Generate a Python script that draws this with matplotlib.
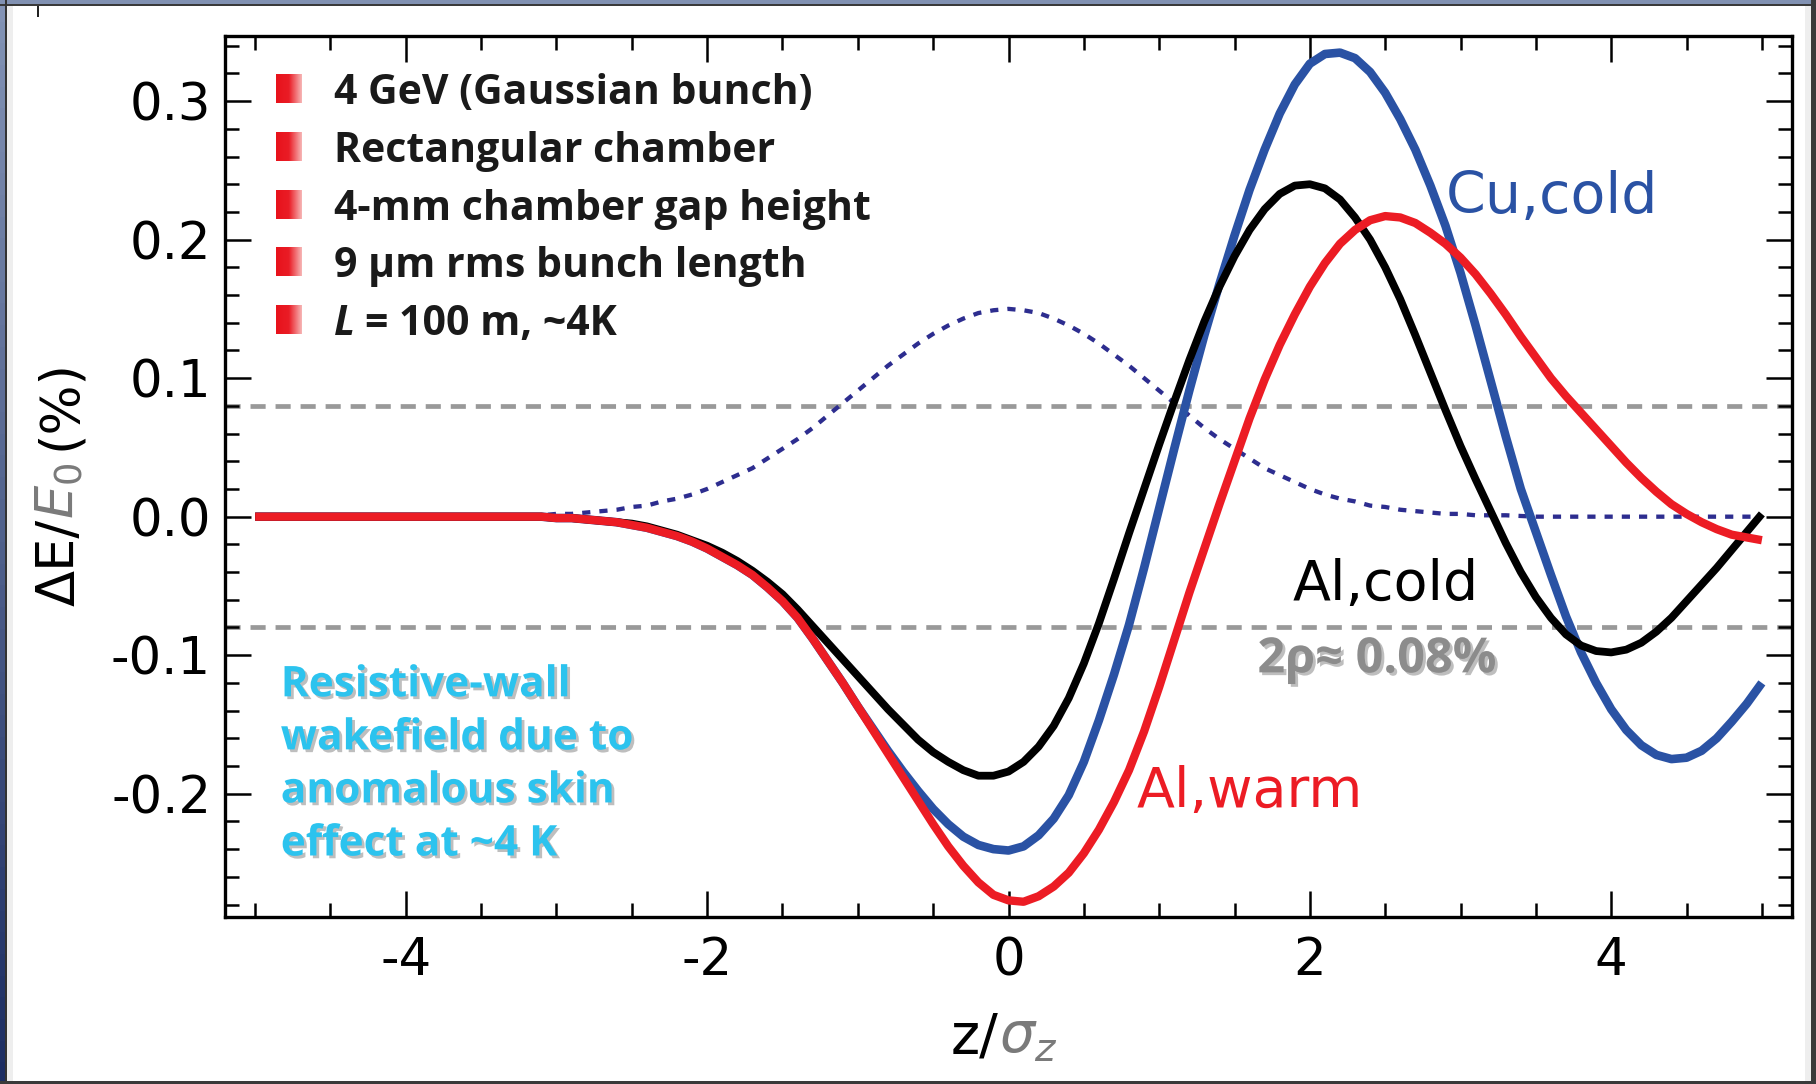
import numpy as np
import matplotlib
matplotlib.use('Agg')
import matplotlib.pyplot as plt
import matplotlib.patheffects as pe
from matplotlib.patches import Rectangle
from matplotlib.colors import LinearSegmentedColormap

plt.rcParams['axes.unicode_minus'] = False
plt.rcParams['font.family'] = ['DejaVu Sans']

# z / sigma_z sampling grid, step 0.1
z = np.linspace(-5, 5, 101)

# dotted bunch profile
bunch = ([0.0] * 16 +
         [0.0005, 0.001, 0.001, 0.001, 0.002,
          0.002, 0.003, 0.004, 0.005, 0.007, 0.008, 0.011, 0.013, 0.016, 0.020,
          0.025, 0.030, 0.035, 0.042, 0.049, 0.056, 0.064, 0.073, 0.082, 0.091,
          0.100, 0.109, 0.117, 0.125, 0.132, 0.138, 0.143, 0.147, 0.149,
          0.150,
          0.149, 0.147, 0.143, 0.138, 0.132, 0.125, 0.117, 0.109, 0.100,
          0.091, 0.082, 0.073, 0.064, 0.056, 0.049, 0.042, 0.035, 0.030, 0.025,
          0.020, 0.016, 0.013, 0.011, 0.008, 0.007, 0.005, 0.004, 0.003, 0.002,
          0.002, 0.001, 0.001, 0.001, 0.0005] +
         [0.0] * 16)

al_cold = ([0.0] * 20 +
           [-0.001, -0.001, -0.002, -0.003, -0.004, -0.005, -0.007, -0.010, -0.013, -0.017,
            -0.021, -0.026, -0.032, -0.039, -0.047, -0.056, -0.067, -0.079, -0.091, -0.103,
            -0.115, -0.127, -0.139, -0.150, -0.161, -0.170, -0.177, -0.183, -0.187, -0.187,
            -0.184, -0.177, -0.166, -0.151, -0.131, -0.106, -0.077, -0.045, -0.012, 0.020,
            0.052, 0.083, 0.113, 0.141, 0.166, 0.188, 0.207, 0.222, 0.233, 0.239,
            0.240, 0.237, 0.229, 0.216, 0.200, 0.180, 0.157, 0.131, 0.104, 0.077,
            0.051, 0.027, 0.004, -0.019, -0.040, -0.058, -0.073, -0.085, -0.093, -0.097,
            -0.098, -0.096, -0.091, -0.083, -0.073, -0.061, -0.049, -0.037, -0.024, -0.011,
            0.002])

cu_cold = ([0.0] * 20 +
           [-0.001, -0.001, -0.002, -0.003, -0.004, -0.006, -0.008, -0.011, -0.014, -0.018,
            -0.023, -0.029, -0.035, -0.042, -0.051, -0.061, -0.073, -0.088, -0.104, -0.120,
            -0.137, -0.153, -0.169, -0.184, -0.198, -0.211, -0.222, -0.231, -0.237, -0.240,
            -0.241, -0.238, -0.230, -0.218, -0.201, -0.177, -0.147, -0.114, -0.078, -0.037,
            0.006, 0.049, 0.091, 0.131, 0.168, 0.203, 0.236, 0.265, 0.291, 0.312,
            0.327, 0.334, 0.335, 0.331, 0.321, 0.306, 0.287, 0.265, 0.239, 0.210,
            0.176, 0.138, 0.098, 0.058, 0.020, -0.011, -0.042, -0.072, -0.098, -0.120,
            -0.139, -0.154, -0.165, -0.172, -0.175, -0.174, -0.169, -0.160, -0.148, -0.135,
            -0.120])

al_warm = ([0.0] * 20 +
           [-0.001, -0.001, -0.002, -0.003, -0.004, -0.006, -0.008, -0.011, -0.014, -0.018,
            -0.023, -0.029, -0.035, -0.042, -0.051, -0.061, -0.073, -0.088, -0.104, -0.120,
            -0.137, -0.154, -0.171, -0.188, -0.205, -0.222, -0.238, -0.252, -0.264, -0.273,
            -0.277, -0.278, -0.274, -0.267, -0.257, -0.243, -0.226, -0.206, -0.183, -0.155,
            -0.123, -0.089, -0.055, -0.023, 0.009, 0.040, 0.071, 0.099, 0.124, 0.146,
            0.166, 0.183, 0.197, 0.207, 0.214, 0.217, 0.216, 0.212, 0.205, 0.197,
            0.187, 0.175, 0.161, 0.146, 0.130, 0.115, 0.100, 0.087, 0.075, 0.063,
            0.051, 0.039, 0.028, 0.018, 0.009, 0.002, -0.004, -0.009, -0.013, -0.015,
            -0.017])

rho_band = [-0.08, 0.08]
x_ticks = [-4, -2, 0, 2, 4]
y_ticks = [-0.2, -0.1, 0.0, 0.1, 0.2, 0.3]

notes = ['4 GeV (Gaussian bunch)', 'Rectangular chamber',
         '4-mm chamber gap height', '9 \u03bcm rms bunch length']
note_last = '= 100 m, ~4K'
blurb = ['Resistive-wall', 'wakefield due to', 'anomalous skin', 'effect at ~4 K']

BLUE = '#2a52a4'
RED = '#ec1c24'
NAVY = '#2d2d8f'
GREY = '#999999'
CYAN = '#2cc3ee'
BOLD = ['Open Sans', 'DejaVu Sans']

W, H = 1816, 1084
fig = plt.figure(figsize=(W / 100, H / 100), dpi=100)
ax = fig.add_axes([225 / W, 1 - 917 / H, (1792 - 225) / W, (917 - 36) / H])

# reference band 2rho
for yv in rho_band:
    ax.axhline(yv, color=GREY, lw=3.4, ls=(0, (3.2, 2.1)), zorder=1)

ax.plot(z, bunch, color=NAVY, lw=3.1, ls=(0, (1.9, 2.1)), zorder=2)
ax.plot(z, cu_cold, color=BLUE, lw=6.2, zorder=3, solid_capstyle='butt')
ax.plot(z, al_cold, color='black', lw=5.6, zorder=4, solid_capstyle='butt')
ax.plot(z, al_warm, color=RED, lw=6.0, zorder=5, solid_capstyle='butt')

ax.set_xlim(-5.2, 5.2)
ax.set_ylim(-0.289, 0.347)
ax.set_xticks(x_ticks)
ax.set_xticks(np.arange(-5, 5.01, 0.5), minor=True)
ax.set_yticks(y_ticks)
ax.set_yticks(np.arange(-0.28, 0.341, 0.02), minor=True)
ax.set_yticklabels(['%.1f' % v for v in y_ticks])
ax.set_xticklabels(['%d' % v for v in x_ticks])
ax.tick_params(which='both', direction='in', top=True, right=True,
               width=1.8, labelsize=37)
ax.tick_params(which='major', length=19)
ax.tick_params(which='minor', length=10)
ax.tick_params(axis='x', pad=14)
ax.tick_params(axis='y', pad=10)
for s in ax.spines.values():
    s.set_linewidth(2.4)

# curve labels
ax.text(2.90, 0.2195, 'Cu,cold', color=BLUE, fontsize=41, va='baseline')
ax.text(1.885, -0.0598, 'Al,cold', color='black', fontsize=40, va='baseline')
ax.text(0.85, -0.2094, 'Al,warm', color=RED, fontsize=40, va='baseline')

shadow = [pe.SimplePatchShadow(offset=(2, -2), shadow_rgbFace='#707070', alpha=0.45), pe.Normal()]
ax.text(1.652, -0.1124, '2\u03c1\u2248 0.08%', color='#8c8c8c', fontsize=35,
        fontweight='bold', family=BOLD, va='baseline', path_effects=shadow)

# bullet list
bullet_cm = LinearSegmentedColormap.from_list('bullet', ['#e8121b', '#ea1d26', '#f7b4b4'])
grad = np.linspace(0, 1, 40)[None, :]
bases = [0.298, 0.2558, 0.2144, 0.1728, 0.1314]
for i, b in enumerate(bases):
    ax.imshow(grad, extent=[-4.86, -4.69, b + 0.0007, b + 0.021], aspect='auto',
              cmap=bullet_cm, zorder=6)
    if i < len(notes):
        ax.text(-4.476, b, notes[i], fontsize=29.5, fontweight='bold', family=BOLD,
                va='baseline', color='#1a1a1a')
tl = ax.text(-4.476, bases[-1], 'L', fontsize=29.5, fontweight='bold', fontstyle='italic',
             family=BOLD, va='baseline', color='#1a1a1a')
ax.annotate(note_last, xy=(1, 0), xycoords=tl, xytext=(7, 0), textcoords='offset points',
            fontsize=29.5, fontweight='bold', family=BOLD, va='bottom', ha='left',
            color='#1a1a1a')

for i, line in enumerate(blurb):
    ax.text(-4.83, -0.1297 - 0.0383 * i, line, color=CYAN, fontsize=30.5,
            fontweight='bold', family=BOLD, va='baseline', path_effects=shadow)

ax.set_xlim(-5.2, 5.2)
ax.set_ylim(-0.289, 0.347)

# axis labels built from pieces (grey italic variables)
t1 = fig.text(951 / W, 20 / H, 'z/', fontsize=40, ha='left', va='bottom')
fig.canvas.draw()
ax.annotate(r'$\sigma_z$', xy=(1, 0), xycoords=t1, fontsize=40, color='#7a7a7a',
            ha='left', va='bottom', annotation_clip=False)

y1 = fig.text(86 / W, 1 - 606 / H, '\u0394E/', fontsize=38, rotation=90, ha='right', va='bottom')
y2 = ax.annotate(r'$E_0$', xy=(1, 1), xycoords=y1, fontsize=38, rotation=90, color='#7a7a7a',
                 ha='right', va='bottom', annotation_clip=False)
ax.annotate('(%)', xy=(1, 1), xycoords=y2, xytext=(0, 9), textcoords='offset points',
            fontsize=38, rotation=90, ha='right', va='bottom', annotation_clip=False)

# slide frame around the picture
grad_ax = fig.add_axes([0, 0, 5 / W, 1])
grad_ax.imshow(np.linspace(0, 1, 50)[:, None], aspect='auto',
               cmap=LinearSegmentedColormap.from_list('side', ['#8393b5', '#1c2d62']))
grad_ax.axis('off')
frame = [((0, 1 - 4 / H), 1, 4 / H, '#8191b2'),
         ((0, 1 - 6 / H), 1, 2 / H, '#3a3a3a'),
         ((5 / W, 0), 2 / W, 1, '#333333'),
         ((7 / W, 0), 6 / W, 1 - 6 / H, '#eeeeee'),
         ((1805 / W, 0), 6 / W, 1 - 6 / H, '#eeeeee'),
         ((1811 / W, 0), 5 / W, 1, '#3a3a3a'),
         ((0, 0), 1, 3 / H, '#3a3a3a'),
         ((37 / W, 1 - 17 / H), 2 / W, 11 / H, '#222222')]
for xy, w, h, c in frame:
    fig.add_artist(Rectangle(xy, w, h, transform=fig.transFigure, color=c, lw=0))

fig.savefig('out.png', dpi=100)
